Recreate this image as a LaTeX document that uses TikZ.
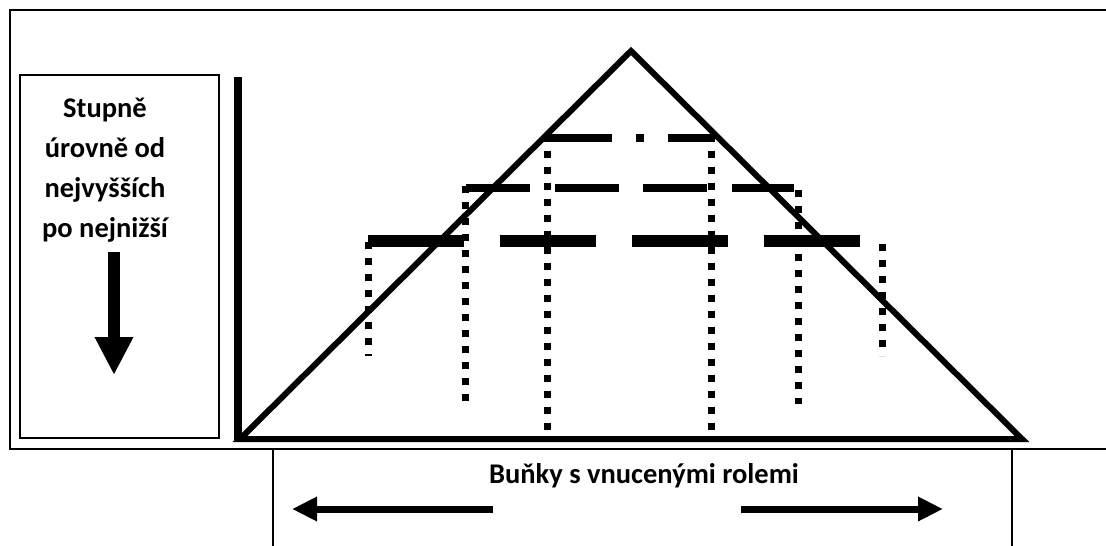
\documentclass[tikz,border=0pt]{standalone}
\usepackage{fontspec}
\setmainfont{Carlito}
\usetikzlibrary{arrows.meta}
\tikzset{
  frame/.style={line width=1.5pt},
  pyr/.style={line width=6pt, line join=miter},
  axisline/.style={line width=7.5pt},
  level/.style={line width=8pt},
  dotline/.style={line width=7pt, dash pattern=on 7pt off 9pt},
  lbl/.style={font=\bfseries\fontsize{28.5}{40}\selectfont, inner sep=0pt},
  bigarrow/.style={line width=7pt, -{Triangle[width=23pt,length=25pt]}}
}
\begin{document}
\begin{tikzpicture}[x=1pt,y=-1pt]
\useasboundingbox (0,0) rectangle (1106,546);
% outer frame (right edge beyond the picture)
\draw[frame] (1106,10) -- (10,10) -- (10,449) -- (1106,449);
% left box
\node[frame, draw, minimum width=199pt, minimum height=363pt, inner sep=0pt] (lbox) at (119.5,256.5) {};
\node[lbl, align=center, anchor=base] (ltext) at (105,237) {Stupně\\úrovně od\\nejvyšších\\po nejnižší};
\coordinate (da1) at (114,252);
\coordinate (da2) at (114,375);
\draw[line width=12pt, -{Triangle[width=36pt,length=38pt]}] (da1) -- (da2);
% bottom box
\draw[frame] (273,546) -- (273,449) -- (1012,449) -- (1012,546);
\node[lbl, anchor=base] (btext) at (644,483) {Buňky s vnucenými rolemi};
\coordinate (la1) at (493,509);
\coordinate (la2) at (292,509);
\coordinate (ra1) at (741,509);
\coordinate (ra2) at (943,509);
\draw[bigarrow] (la1) -- (la2);
\draw[bigarrow] (ra1) -- (ra2);
% axis
\draw[axisline] (238,77) -- (238,440);
% pyramid
\coordinate (apex) at (631,51);
\coordinate (bl) at (240,439);
\coordinate (br) at (1022,439);
\draw[pyr] (bl) -- (apex) -- (br) -- cycle;
\draw[line width=6pt] (236,439) -- (bl);
% level lines
\draw[level, dash pattern=on 64pt off 24pt on 8pt off 24pt] (548,138) -- (713,138);
\draw[level, dash pattern=on 64pt off 24.5pt] (466,188) -- (794,188);
\draw[line width=12pt, dash pattern=on 96pt off 36pt] (368,241) -- (860,241);
% dotted verticals
\draw[dotline] (368,242) -- (368,356);
\draw[dotline] (465,186) -- (465,404);
\draw[dotline] (547,135) -- (547,431);
\draw[dotline] (711,135) -- (711,431);
\draw[dotline] (798,190) -- (798,404);
\draw[dotline] (882,244) -- (882,356);
\end{tikzpicture}
\end{document}
